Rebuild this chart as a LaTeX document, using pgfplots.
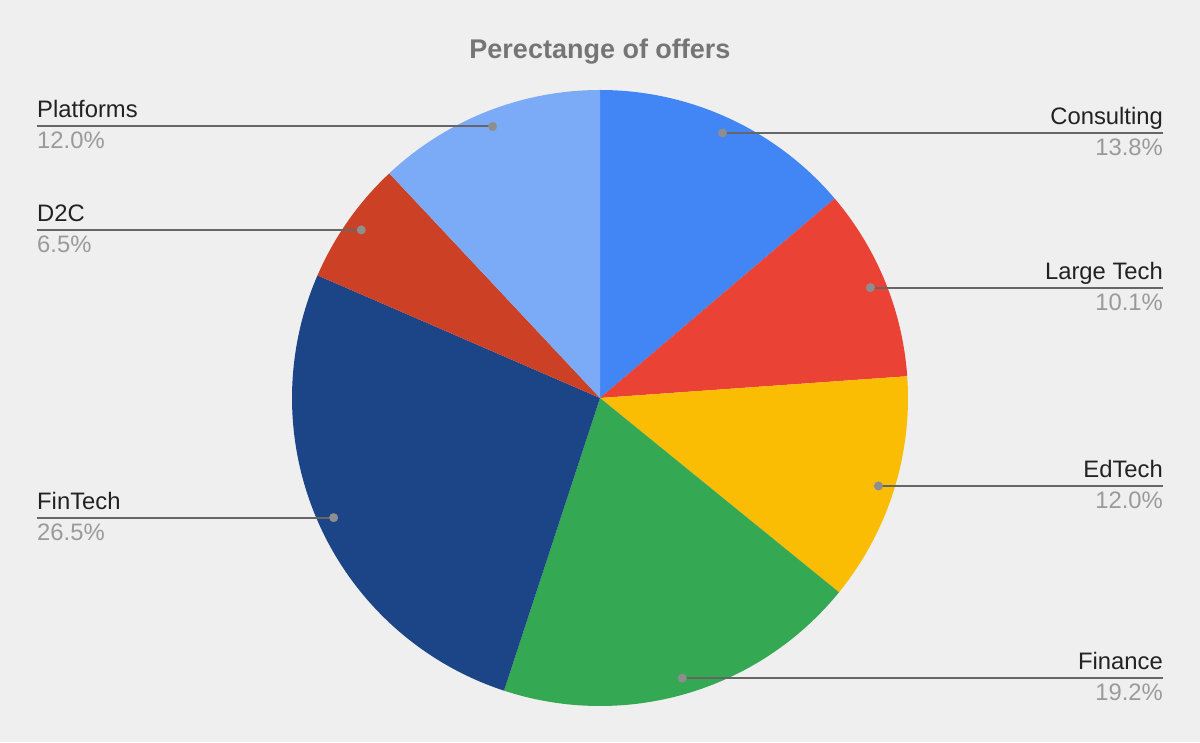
\documentclass[border=0pt]{standalone}
\usepackage{pgfplots}
\pgfplotsset{compat=1.18}
\usepackage{pgfplotstable}
\usepackage{fontspec}
\setmainfont{Liberation Sans}

\definecolor{bg}{HTML}{EFEFEF}
\definecolor{titlegray}{HTML}{757575}
\definecolor{namegray}{HTML}{222222}
\definecolor{pctgray}{HTML}{9A9A9A}
\definecolor{linegray}{HTML}{666666}
\definecolor{dotgray}{HTML}{8E8E8E}
\definecolor{cConsulting}{HTML}{4285F4}
\definecolor{cLargeTech}{HTML}{EA4335}
\definecolor{cEdTech}{HTML}{FBBC04}
\definecolor{cFinance}{HTML}{34A853}
\definecolor{cFinTech}{HTML}{1C4587}
\definecolor{cDtoC}{HTML}{CC4125}
\definecolor{cPlatforms}{HTML}{7BAAF7}

% share of offers, clockwise from 12 o'clock
\pgfplotstableread[col sep=comma]{
name,value,color
Consulting,13.8,cConsulting
Large Tech,10.1,cLargeTech
EdTech,12.0,cEdTech
Finance,19.2,cFinance
FinTech,26.5,cFinTech
D2C,6.5,cDtoC
Platforms,12.0,cPlatforms
}\pietable

\tikzset{
  leader/.style={draw=linegray, line width=2pt},
  namelbl/.style={inner sep=0pt, text=namegray, font=\fontsize{23.8}{28}\selectfont},
  pctlbl/.style={inner sep=0pt, text=pctgray, font=\fontsize{23.8}{28}\selectfont},
}

\begin{document}
\begin{tikzpicture}
\begin{axis}[
    width=1200pt, height=742pt, scale only axis,
    xmin=0, xmax=1200, ymin=0, ymax=742,
    hide axis, clip=false,
]
\fill[bg] (axis cs:0,0) rectangle (axis cs:1200,742);
\node[inner sep=0pt, anchor=base, text=titlegray, font=\bfseries\fontsize{27}{32}\selectfont]
    at (axis cs:600,683) {Perectange of offers};

\pgfplotstablegetrowsof{\pietable}
\pgfmathtruncatemacro\nlast{\pgfplotsretval-1}
\def\total{0}
\pgfplotsforeachungrouped \i in {0,...,\nlast}{%
  \pgfplotstablegetelem{\i}{value}\of\pietable
  \pgfmathsetmacro\total{\total+\pgfplotsretval}}

% slices (centre 600,344; radius 308)
\def\cum{0}
\pgfplotsforeachungrouped \i in {0,...,\nlast}{%
  \pgfplotstablegetelem{\i}{value}\of\pietable \let\v\pgfplotsretval
  \pgfplotstablegetelem{\i}{color}\of\pietable \let\c\pgfplotsretval
  \pgfmathsetmacro\sa{90-(\cum/\total)*360}
  \pgfmathsetmacro\cum{\cum+\v}
  \pgfmathsetmacro\ea{90-(\cum/\total)*360}
  \edef\temp{\noexpand\fill[\c] (axis cs:600,344) -- ++(\sa:308pt)
     arc[start angle=\sa, end angle=\ea, radius=308pt] -- cycle;}%
  \temp
}

% leader lines and labels
\def\cum{0}
\pgfplotsforeachungrouped \i in {0,...,\nlast}{%
  \pgfplotstablegetelem{\i}{value}\of\pietable \let\v\pgfplotsretval
  \pgfplotstablegetelem{\i}{name}\of\pietable \let\n\pgfplotsretval
  \pgfmathsetmacro\ma{90-((\cum+\v/2)/\total)*360}
  \pgfmathsetmacro\cum{\cum+\v}
  \pgfmathsetmacro\dx{600+292*cos(\ma)}
  \pgfmathsetmacro\dy{344+292*sin(\ma)}
  \pgfmathsetmacro\ty{\dy+8.5}
  \pgfmathsetmacro\by{\dy-22.5}
  \pgfmathtruncatemacro\isright{\dx>600}
  \ifnum\isright=1
    \def\lx{1163}\def\anc{east}
  \else
    \def\lx{37}\def\anc{west}
  \fi
  \edef\temp{%
    \noexpand\draw[leader] (axis cs:\dx,\dy) -- (axis cs:\lx,\dy);
    \noexpand\fill[dotgray] (axis cs:\dx,\dy) circle[radius=4.5pt];
    \noexpand\node[namelbl, anchor=base \anc] at (axis cs:\lx,\ty) {\n};
    \noexpand\node[pctlbl, anchor=base \anc] at (axis cs:\lx,\by)
      {\noexpand\pgfmathprintnumber[assume math mode=true,fixed,fixed zerofill,precision=1]{\v}\noexpand\%};}%
  \temp
}
\end{axis}
\end{tikzpicture}
\end{document}
